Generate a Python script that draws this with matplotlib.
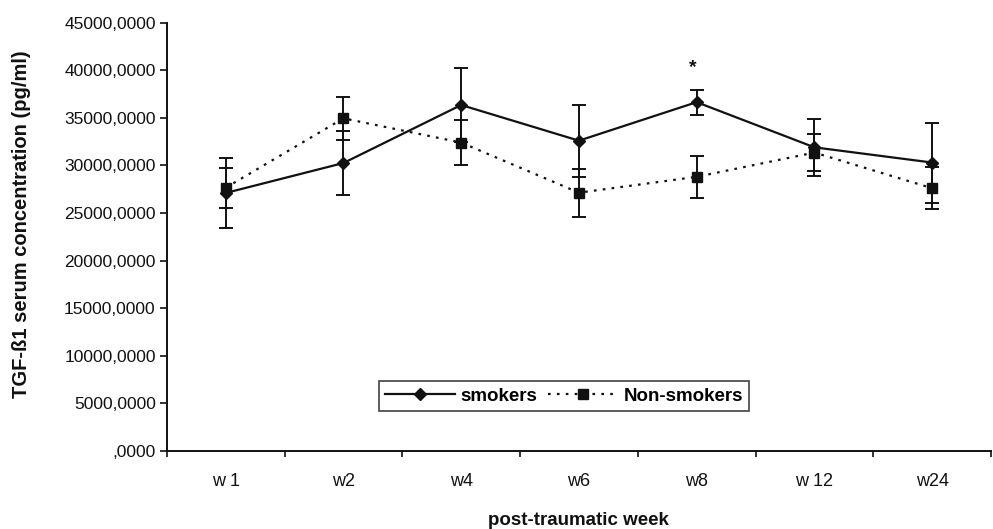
import matplotlib
matplotlib.use("Agg")
import matplotlib.pyplot as plt
from matplotlib.lines import Line2D
from matplotlib.ticker import FuncFormatter, FixedLocator
import numpy as np

plt.rcParams['font.family'] = ['Liberation Sans', 'DejaVu Sans']

weeks = ["w 1", "w2", "w4", "w6", "w8", "w 12", "w24"]
smokers = [27100, 30250, 36350, 32600, 36650, 31900, 30300]
smokers_err = [3700, 3330, 3850, 3770, 1330, 3010, 4210]
non_smokers = [27650, 34950, 32400, 27130, 28800, 31350, 27600]
non_smokers_err = [2100, 2250, 2400, 2510, 2190, 1900, 2220]
star_week = "w8"
star_value = 40300

ink = "#111111"
dotted = (0, (1.2, 2.8))

fig = plt.figure(figsize=(9.93, 5.29), dpi=100)
ax = fig.add_axes([0.168, 0.148, 0.830, 0.809])

x = np.arange(len(weeks))

ax.errorbar(x, smokers, yerr=smokers_err, color=ink, lw=1.6, ls="-",
            marker="D", ms=6.5, mfc=ink, mec=ink, capsize=5, capthick=1.4,
            elinewidth=1.4, zorder=3)
ax.errorbar(x, non_smokers, yerr=non_smokers_err, color=ink, lw=1.6,
            ls=dotted, marker="s", ms=6.5, mfc=ink, mec=ink,
            capsize=5, capthick=1.4, elinewidth=1.4, zorder=3)

ax.text(weeks.index(star_week) - 0.03, star_value, "*", ha="center",
        va="center", fontsize=14, fontweight="bold", color=ink)

ax.set_xlim(-0.5, len(weeks) - 0.5)
ax.set_ylim(0, 45000)
ax.set_yticks(np.arange(0, 45001, 5000))


def fmt(v, pos):
    return ",0000" if v == 0 else "%d,0000" % v


ax.yaxis.set_major_formatter(FuncFormatter(fmt))
ax.set_xticks(x)
ax.set_xticklabels(weeks)
ax.xaxis.set_minor_locator(FixedLocator(np.arange(-0.5, len(weeks), 1.0)))
ax.tick_params(axis="x", which="major", length=0, pad=16, labelsize=13,
               colors=ink)
ax.tick_params(axis="x", which="minor", length=4, width=1.2, direction="out",
               color=ink)
ax.tick_params(axis="y", length=5, width=1.2, direction="out", labelsize=12.5,
               colors=ink, pad=3)

for side in ["top", "right"]:
    ax.spines[side].set_visible(False)
for side in ["left", "bottom"]:
    ax.spines[side].set_linewidth(1.4)
    ax.spines[side].set_color(ink)

ax.set_xlabel("post-traumatic week", fontsize=13.5, fontweight="bold",
              labelpad=16, color=ink)
ax.set_ylabel("TGF-ß1 serum concentration (pg/ml)", fontsize=14.5,
              fontweight="bold", labelpad=16, color=ink)
ax.yaxis.set_label_coords(-0.165, 0.53)

handles = [
    Line2D([], [], color=ink, lw=1.6, ls="-", marker="D", ms=6.5, mfc=ink,
           mec=ink),
    Line2D([], [], color=ink, lw=1.6, ls=dotted, marker="s", ms=6.5,
           mfc=ink, mec=ink),
]
leg = ax.legend(handles, ["smokers", "Non-smokers"], loc="center",
                bbox_to_anchor=(0.482, 0.127), ncol=2, frameon=True,
                fancybox=False, edgecolor=ink, handlelength=3.7,
                columnspacing=0.6, handletextpad=0.3, borderpad=0.35,
                prop={"weight": "bold", "size": 13.5})
leg.get_frame().set_linewidth(1.2)

fig.savefig("out.png", dpi=100)
